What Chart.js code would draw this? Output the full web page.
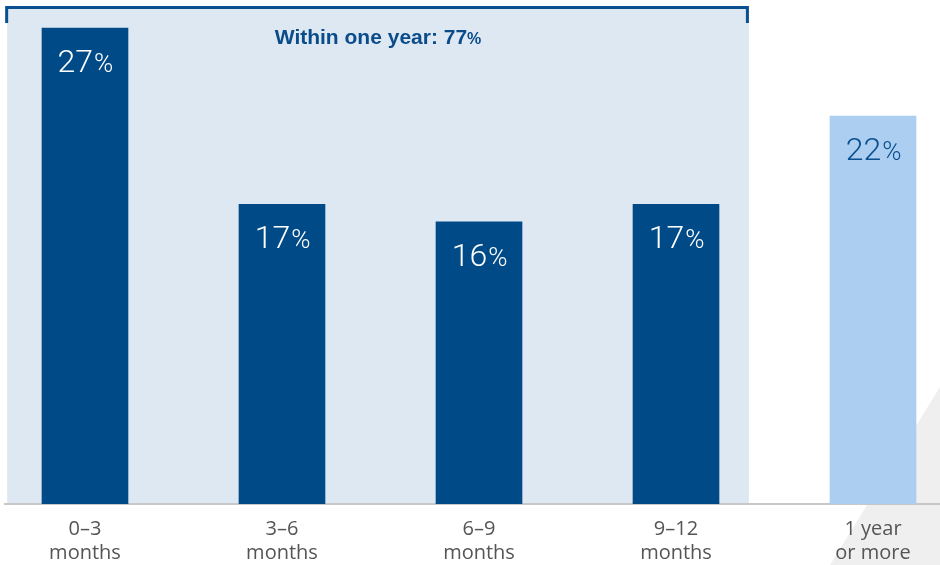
<html>
<head>
<style>
  body { margin: 0; background: #fff; }
</style>
</head>
<body>
<canvas id="chart" width="940" height="565"></canvas>

<script src="https://cdn.jsdelivr.net/npm/chart.js@4.4.0/dist/chart.umd.min.js"></script>
<script>
// data
const categories = [['0–3', 'months'], ['3–6', 'months'], ['6–9', 'months'], ['9–12', 'months'], ['1 year', 'or more']];
const shares = [27, 17, 16, 17, 22];
const withinYearIdx = [0, 1, 2, 3];
const withinYearTotal = 77;

const dark = '#004b87';
const light = '#abcef1';
const boxFill = '#dee8f3';
const titleBlue = '#0a4c8a';

// background box, bracket, grey corner
const decor = {
  id: 'decor',
  beforeDraw(chart) {
    const ctx = chart.ctx;
    const x = chart.scales.x;
    const area = chart.chartArea;
    ctx.save();
    // grey corner at bottom right
    ctx.fillStyle = '#efefef';
    ctx.beginPath();
    ctx.moveTo(830, chart.height);
    ctx.lineTo(chart.width, 387);
    ctx.lineTo(chart.width, chart.height);
    ctx.closePath();
    ctx.fill();
    // shaded "within one year" box
    const l = x.getPixelForValue(withinYearIdx[0] - 0.395);
    const r = x.getPixelForValue(withinYearIdx[withinYearIdx.length - 1] + 0.37);
    ctx.fillStyle = boxFill;
    ctx.fillRect(l, 8, r - l, area.bottom - 8);
    ctx.restore();
  },
  afterDraw(chart) {
    const ctx = chart.ctx;
    const x = chart.scales.x;
    const l = x.getPixelForValue(withinYearIdx[0] - 0.395);
    const r = x.getPixelForValue(withinYearIdx[withinYearIdx.length - 1] + 0.37);
    ctx.save();
    ctx.strokeStyle = '#0a4f8f';
    ctx.lineWidth = 3;
    ctx.beginPath();
    ctx.moveTo(l - 0.5, 23);
    ctx.lineTo(l - 0.5, 7.5);
    ctx.lineTo(r - 1.5, 7.5);
    ctx.lineTo(r - 1.5, 23);
    ctx.stroke();

    // title
    const main = 'Within one year: ' + withinYearTotal;
    ctx.font = 'bold 21px "Liberation Sans"';
    const w1 = ctx.measureText(main).width;
    ctx.font = 'bold 16px "Liberation Sans"';
    const w2 = ctx.measureText('%').width;
    const cx = (l + r) / 2;
    const sx = cx - (w1 + w2) / 2;
    ctx.fillStyle = titleBlue;
    ctx.textBaseline = 'alphabetic';
    ctx.textAlign = 'left';
    ctx.font = 'bold 21px "Liberation Sans"';
    ctx.fillText(main, sx, 44);
    ctx.font = 'bold 16px "Liberation Sans"';
    ctx.fillText('%', sx + w1, 44);

    // value labels
    const meta = chart.getDatasetMeta(0);
    meta.data.forEach((bar, i) => {
      const num = String(shares[i]);
      ctx.font = '300 32px Roboto';
      const a = ctx.measureText(num).width;
      ctx.font = '300 26px Roboto';
      const b = ctx.measureText('%').width;
      const px = bar.x - (a + b) / 2;
      const py = bar.y + 44;
      ctx.fillStyle = i < 4 ? '#ffffff' : '#0a4f8f';
      ctx.font = '300 32px Roboto';
      ctx.fillText(num, px, py);
      ctx.font = '300 26px Roboto';
      ctx.fillText('%', px + a + 1, py);
    });
    ctx.restore();
  }
};

new Chart(document.getElementById('chart').getContext('2d'), {
  type: 'bar',
  data: {
    datasets: [{
      data: shares.map((v, i) => ({ x: i, y: v })),
      backgroundColor: shares.map((v, i) => withinYearIdx.includes(i) ? dark : light),
      barThickness: 86,
      borderWidth: 0
    }]
  },
  options: {
    responsive: false,
    animation: false,
    layout: { padding: { left: 5, right: 0, top: 0, bottom: 0 } },
    plugins: { legend: { display: false }, tooltip: { enabled: false } },
    scales: {
      x: {
        type: 'linear',
        offset: false,
        min: -0.406,
        max: 4.34,
        grid: { display: false },
        border: { display: true, color: '#c8c8c8', width: 2 },
        afterBuildTicks: (s) => { s.ticks = categories.map((c, i) => ({ value: i })); },
        afterFit: (s) => { s.height = 61; },
        ticks: {
          autoSkip: false,
          maxRotation: 0,
          padding: 5,
          color: '#555555',
          font: { family: 'Open Sans', size: 20, lineHeight: 1.2 },
          callback: (v) => categories[v]
        }
      },
      y: {
        display: false,
        min: 0,
        max: 28.59
      }
    }
  },
  plugins: [decor]
});
</script>
</body>
</html>
